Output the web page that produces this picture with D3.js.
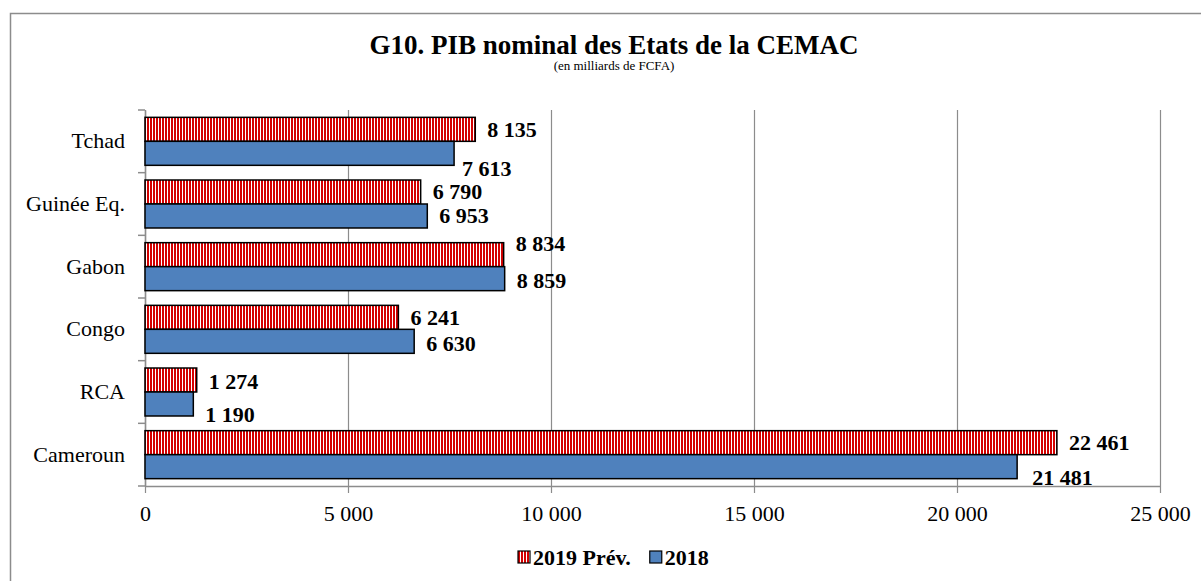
<!DOCTYPE html>
<html lang="fr">
<head>
<meta charset="UTF-8">
<title>G10. PIB nominal des Etats de la CEMAC</title>
<script src="https://cdn.jsdelivr.net/npm/d3@7"></script>
<style>
  body { margin: 0; background: #fff; }
  svg { font-family: "Liberation Serif", "Times New Roman", serif; }
  .tick text { font-size: 22px; fill: #000; }
  .val { font-size: 22px; font-weight: bold; fill: #000; }
</style>
</head>
<body>
<script>
const countries = ["Tchad", "Guinée Eq.", "Gabon", "Congo", "RCA", "Cameroun"];
const series = ["2019 Prév.", "2018"];
const values2019 = [8135, 6790, 8834, 6241, 1274, 22461];
const values2018 = [7613, 6953, 8859, 6630, 1190, 21481];
const xTicks = [0, 5000, 10000, 15000, 20000, 25000];

// small manual shifts of the value labels (as in the original chart)
const nudge2019 = [0, 0, -11, 0, 2, 0];
const nudge2018 = [15, 0, 2, 2, 11, 11];
const nudgeX2018 = [-4, 0, 0, 0, 0, 3];

const W = 1201, H = 581;
const svg = d3.select("body").append("svg").attr("width", W).attr("height", H);

const defs = svg.append("defs");
const pat = defs.append("pattern").attr("id", "stripes")
  .attr("patternUnits", "userSpaceOnUse").attr("width", 3).attr("height", 10);
pat.append("rect").attr("width", 3).attr("height", 10).attr("fill", "#fff");
pat.append("rect").attr("width", 2).attr("height", 10).attr("fill", "#d40000");

const fills = { "2019 Prév.": "url(#stripes)", "2018": "#4f81bd" };

// outer frame
svg.append("rect").attr("x", 10.5).attr("y", 13.5).attr("width", 1200).attr("height", 600)
  .attr("fill", "none").attr("stroke", "#8c8c8c").attr("stroke-width", 1.5);

svg.append("text").attr("x", 614).attr("y", 54).attr("text-anchor", "middle")
  .style("font-size", "27px").style("font-weight", "bold")
  .text("G10. PIB nominal des Etats de la CEMAC");
svg.append("text").attr("x", 614).attr("y", 70).attr("text-anchor", "middle")
  .style("font-size", "13px")
  .text("(en milliards de FCFA)");

const pL = 145, pR = 1160, pT = 110, pB = 486;
const x = d3.scaleLinear().domain([0, 25000]).range([pL, pR]);
const y = d3.scaleBand().domain(countries).range([pT, pB]);
const ys = d3.scaleBand().domain(series).range([0, y.bandwidth()]).paddingOuter(0.306);

const loc = d3.formatLocale({ decimal: ",", thousands: " ", grouping: [3], currency: ["", ""] });
const fmt = loc.format(",");

// grid lines
svg.append("g").selectAll("line").data(xTicks).join("line")
  .attr("x1", d => x(d) + 0.5).attr("x2", d => x(d) + 0.5)
  .attr("y1", pT).attr("y2", pB + 7)
  .attr("stroke", "#8c8c8c").attr("stroke-width", 1.2);

// x axis labels
const xAxis = svg.append("g").attr("transform", `translate(0,${pB})`)
  .call(d3.axisBottom(x).tickValues(xTicks).tickFormat(fmt).tickSize(0).tickPadding(19))
  .attr("font-family", null).attr("font-size", null);
xAxis.select(".domain").attr("stroke", "#8c8c8c").attr("stroke-width", 1.5);

// y axis
const yAxis = svg.append("g").attr("transform", `translate(${pL},0)`)
  .call(d3.axisLeft(y).tickSize(0).tickPadding(20))
  .attr("font-family", null).attr("font-size", null);
yAxis.select(".domain").attr("stroke", "#8c8c8c").attr("stroke-width", 1.5);
yAxis.selectAll("text").style("font-size", "22px");
yAxis.append("g").selectAll("line").data(d3.range(countries.length + 1)).join("line")
  .attr("x1", -7).attr("x2", 0)
  .attr("y1", i => pT + i * y.step()).attr("y2", i => pT + i * y.step())
  .attr("stroke", "#8c8c8c").attr("stroke-width", 1.5);

const rows = countries.map((c, i) => ({
  c, i, vals: [
    { s: series[0], v: values2019[i], dy: nudge2019[i], dx: 0 },
    { s: series[1], v: values2018[i], dy: nudge2018[i], dx: nudgeX2018[i] }
  ]
}));

const g = svg.append("g").selectAll("g").data(rows).join("g")
  .attr("transform", d => `translate(0,${y(d.c)})`);

g.selectAll("rect").data(d => d.vals).join("rect")
  .attr("x", x(0))
  .attr("y", d => ys(d.s))
  .attr("width", d => x(d.v) - x(0))
  .attr("height", ys.bandwidth())
  .attr("fill", d => fills[d.s])
  .attr("stroke", "#000").attr("stroke-width", 1.5);

g.selectAll("text.val").data(d => d.vals).join("text")
  .attr("class", "val")
  .attr("x", d => x(d.v) + 12 + d.dx)
  .attr("y", d => ys(d.s) + ys.bandwidth() / 2 + d.dy)
  .attr("dominant-baseline", "central")
  .text(d => fmt(d.v));

// legend
const lg = svg.append("g").attr("transform", "translate(518,557)");
let lx = 0;
series.forEach(s => {
  lg.append("rect").attr("x", lx).attr("y", -6).attr("width", 12).attr("height", 12)
    .attr("fill", fills[s]).attr("stroke", "#000").attr("stroke-width", 1.2);
  const t = lg.append("text").attr("x", lx + 15).attr("y", 0)
    .attr("dominant-baseline", "central")
    .style("font-size", "22px").style("font-weight", "bold").text(s);
  lx += 15 + t.node().getComputedTextLength() + 19;
});
</script>
</body>
</html>
